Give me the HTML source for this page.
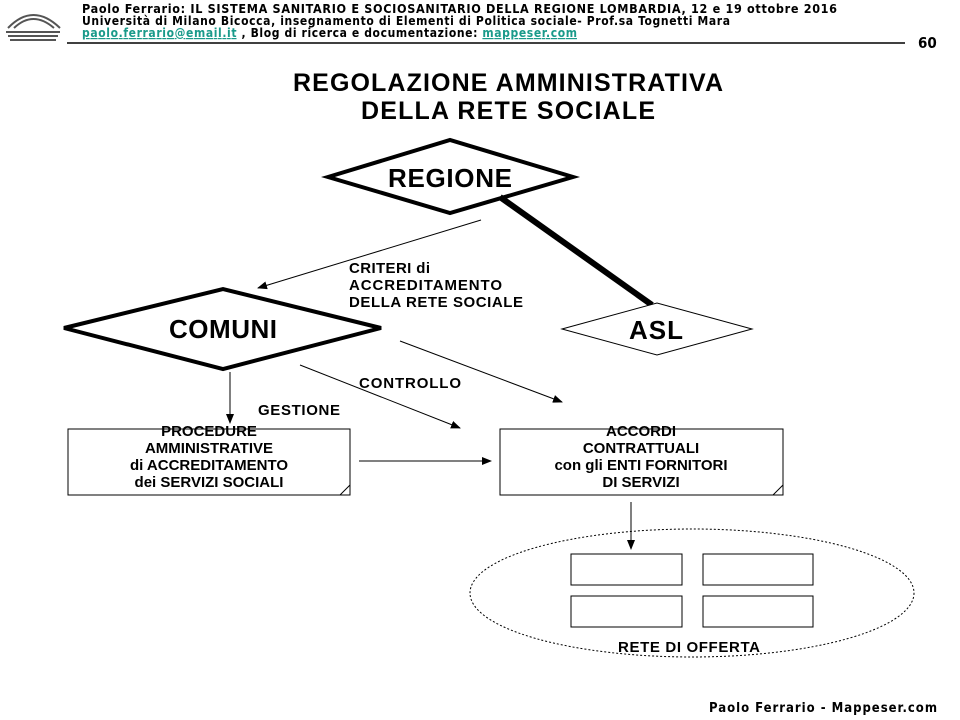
<!DOCTYPE html>
<html><head><meta charset="utf-8"><style>
html,body{margin:0;padding:0;background:#fff;}
svg{display:block;}
.h{font-family:"DejaVu Sans Condensed","DejaVu Sans","Liberation Sans",sans-serif;font-size:12px;font-weight:bold;}
.b{font-family:"Liberation Sans",sans-serif;font-weight:bold;}
</style></head><body>
<svg width="960" height="720" viewBox="0 0 960 720" xmlns="http://www.w3.org/2000/svg">
<defs>
<marker id="a" markerWidth="10" markerHeight="8" refX="9" refY="4" orient="auto" markerUnits="userSpaceOnUse"><path d="M0,0 L10,4 L0,8 z" fill="#000"/></marker>
</defs>
<g fill="none" stroke="#555" stroke-width="2">
<path d="M8,28 Q33,2 60,28"/><path d="M14,28 Q33,10 54,28"/>
<path d="M6,32 L60,32 M8,36 L58,36 M10,40 L56,40"/>
</g>
<text class="h" x="82" y="13" style="font-size:12.5px" textLength="755">Paolo Ferrario: IL SISTEMA SANITARIO E SOCIOSANITARIO DELLA REGIONE LOMBARDIA, 12 e 19 ottobre 2016</text>
<text class="h" x="82" y="25" textLength="648">Università di Milano Bicocca, insegnamento  di Elementi di Politica sociale- Prof.sa Tognetti Mara</text>
<text class="h" x="82" y="37" textLength="495"><tspan fill="#1a9a8a" text-decoration="underline">paolo.ferrario@email.it</tspan> , Blog di ricerca e documentazione:  <tspan fill="#1a9a8a" text-decoration="underline">mappeser.com</tspan></text>
<line x1="67" y1="43" x2="905" y2="43" stroke="#000" stroke-width="1.5"/>
<text class="h" x="918" y="48" style="font-size:15px">60</text>

<text class="b" x="293" y="91" font-size="25" textLength="430">REGOLAZIONE AMMINISTRATIVA</text>
<text class="b" x="361" y="119" font-size="25" textLength="294">DELLA RETE SOCIALE</text>

<polygon points="328,177 450,140 573,177 450,213" fill="#fff" stroke="#000" stroke-width="4"/>
<text class="b" x="388" y="187" font-size="26" textLength="124">REGIONE</text>
<line x1="500" y1="197" x2="652" y2="305" stroke="#000" stroke-width="6"/>

<polygon points="64,328 223,289 381,328 223,369" fill="#fff" stroke="#000" stroke-width="4"/>
<text class="b" x="169" y="338" font-size="26" textLength="108">COMUNI</text>

<polygon points="562,329 657,303 752,329 657,355" fill="#fff" stroke="#000" stroke-width="1"/>
<text class="b" x="629" y="339" font-size="26" textLength="54">ASL</text>

<line x1="481" y1="220" x2="258" y2="288" stroke="#000" marker-end="url(#a)"/>
<text class="b" font-size="15" x="349" y="273" textLength="81">CRITERI di</text>
<text class="b" font-size="15" x="349" y="290" textLength="153">ACCREDITAMENTO</text>
<text class="b" font-size="15" x="349" y="307" textLength="174">DELLA RETE SOCIALE</text>

<line x1="400" y1="341" x2="562" y2="402" stroke="#000" marker-end="url(#a)"/>
<line x1="300" y1="365" x2="460" y2="428" stroke="#000" marker-end="url(#a)"/>
<text class="b" font-size="15" x="359" y="388" textLength="102">CONTROLLO</text>
<line x1="230" y1="372" x2="230" y2="423" stroke="#000" marker-end="url(#a)"/>
<text class="b" font-size="15" x="258" y="415" textLength="82">GESTIONE</text>

<rect x="68" y="429" width="282" height="66" fill="#fff" stroke="#000"/>
<path d="M340,495 L350,485" stroke="#000" fill="none"/>
<text class="b" font-size="15" text-anchor="middle" x="209" y="436">PROCEDURE</text>
<text class="b" font-size="15" text-anchor="middle" x="209" y="453">AMMINISTRATIVE</text>
<text class="b" font-size="15" text-anchor="middle" x="209" y="470">di ACCREDITAMENTO</text>
<text class="b" font-size="15" text-anchor="middle" x="209" y="487">dei  SERVIZI SOCIALI</text>

<rect x="500" y="429" width="283" height="66" fill="#fff" stroke="#000"/>
<path d="M773,495 L783,485" stroke="#000" fill="none"/>
<text class="b" font-size="15" text-anchor="middle" x="641" y="436">ACCORDI</text>
<text class="b" font-size="15" text-anchor="middle" x="641" y="453">CONTRATTUALI</text>
<text class="b" font-size="15" text-anchor="middle" x="641" y="470">con gli ENTI FORNITORI</text>
<text class="b" font-size="15" text-anchor="middle" x="641" y="487">DI SERVIZI</text>

<line x1="359" y1="461" x2="491" y2="461" stroke="#000" marker-end="url(#a)"/>

<ellipse cx="692" cy="593" rx="222" ry="64" fill="#fff" stroke="#000" stroke-dasharray="2,2"/>
<line x1="631" y1="502" x2="631" y2="549" stroke="#000" marker-end="url(#a)"/>
<rect x="571" y="554" width="111" height="31" fill="#fff" stroke="#000"/>
<rect x="703" y="554" width="110" height="31" fill="#fff" stroke="#000"/>
<rect x="571" y="596" width="111" height="31" fill="#fff" stroke="#000"/>
<rect x="703" y="596" width="110" height="31" fill="#fff" stroke="#000"/>
<text class="b" font-size="15" x="618" y="652" textLength="142">RETE DI OFFERTA</text>

<text class="h" x="709" y="712" style="font-size:13px" textLength="228">Paolo Ferrario - Mappeser.com</text>
</svg>
</body></html>
